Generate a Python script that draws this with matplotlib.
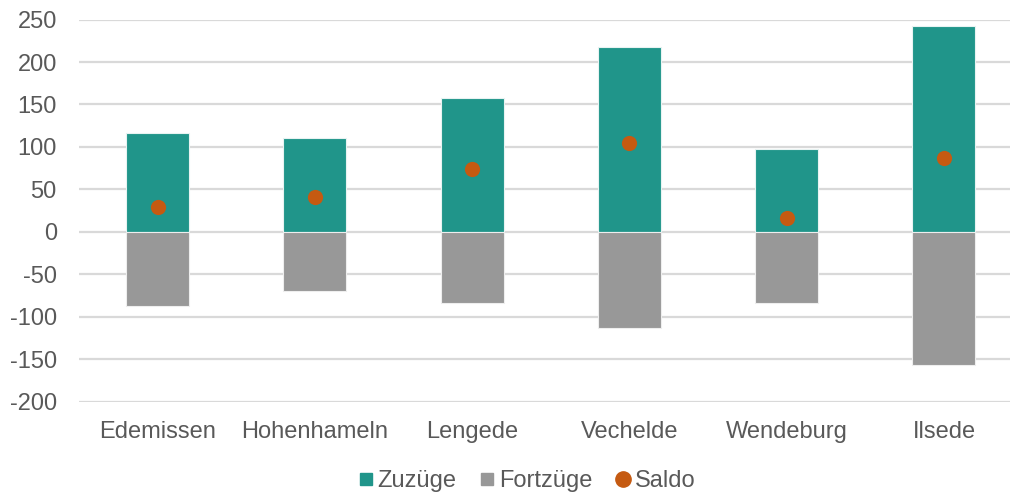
import numpy as np
import matplotlib.pyplot as plt
from matplotlib.lines import Line2D

plt.rcParams['font.family'] = ['Liberation Sans', 'DejaVu Sans']
plt.rcParams['axes.unicode_minus'] = False

gemeinden = ['Edemissen', 'Hohenhameln', 'Lengede', 'Vechelde', 'Wendeburg', 'Ilsede']
zuzuege = [116, 111, 158, 218, 98, 242]
fortzuege = [-87, -70, -84, -113, -83, -156]
saldo = [29, 41, 74, 105, 16, 87]

c_zu = '#20958A'
c_fort = '#989898'
c_saldo = '#C55A11'
c_text = '#595959'

fig = plt.figure(figsize=(10.1, 4.95), dpi=100)
ax = fig.add_axes([0.0782, 0.1879, 0.9218, 0.7727])

x = np.arange(len(gemeinden))
ax.bar(x, zuzuege, width=0.4, color=c_zu, edgecolor='#e8f3f2', linewidth=0.8, zorder=2)
ax.bar(x, fortzuege, width=0.4, color=c_fort, edgecolor='#eeeeee', linewidth=0.8, zorder=2)
ax.scatter(x, saldo, s=120, color=c_saldo, zorder=3, linewidths=0)

ax.set_ylim(-200, 250)
ax.set_yticks(range(-200, 251, 50))
ax.set_xlim(-0.5, 5.42)
ax.set_xticks(x)
ax.set_xticklabels(gemeinden)
ax.yaxis.grid(True, color='#D9D9D9', linewidth=1.6, zorder=0)
ax.set_axisbelow(True)
for s in ax.spines.values():
    s.set_visible(False)
ax.tick_params(axis='both', length=0, labelsize=17, colors=c_text)
ax.tick_params(axis='x', pad=14)
ax.tick_params(axis='y', pad=16)

# Legende mit kleinen Quadraten und Punkt
handles = [Line2D([], [], marker='s', linestyle='', color=c_zu, markersize=9, label='Zuzüge'),
           Line2D([], [], marker='s', linestyle='', color=c_fort, markersize=9, label='Fortzüge'),
           Line2D([], [], marker='o', linestyle='', color=c_saldo, markersize=11, label='Saldo')]
leg = fig.legend(handles=handles, loc='center', bbox_to_anchor=(0.522, 0.028), ncol=3,
                 frameon=False, fontsize=17, handlelength=0.6,
                 handletextpad=0.2, columnspacing=1.0)
for t in leg.get_texts():
    t.set_color(c_text)

fig.savefig('out.png', dpi=100)
